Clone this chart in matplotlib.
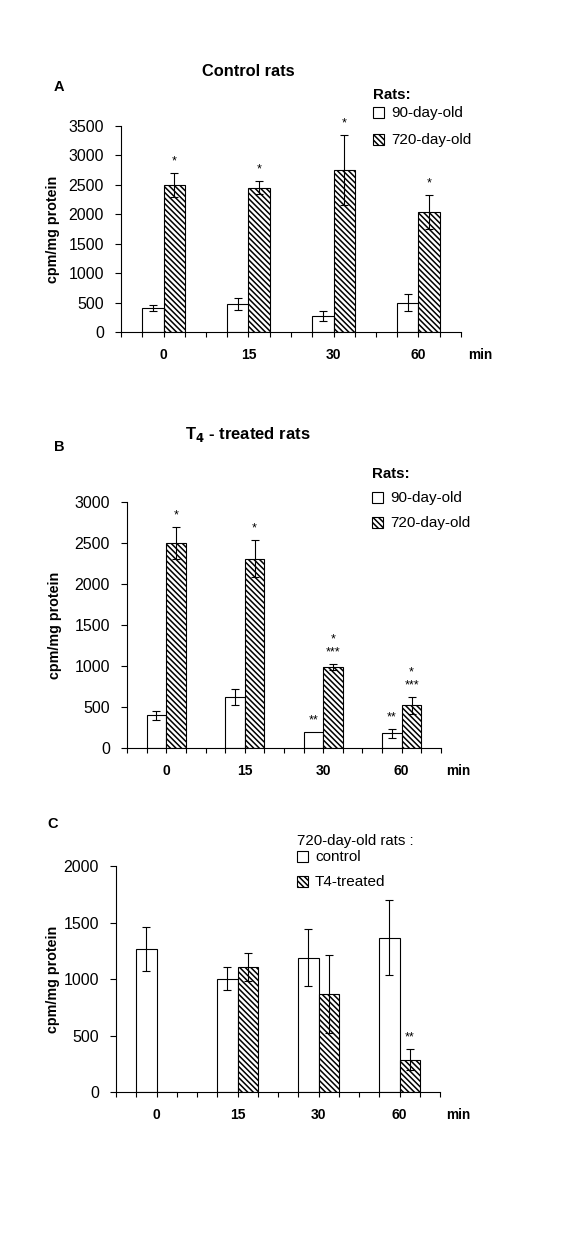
import numpy as np
import matplotlib
matplotlib.use('Agg')
from matplotlib import pyplot as plt
from matplotlib.patches import Rectangle

plt.rcParams['font.family'] = ['Liberation Sans', 'DejaVu Sans']
plt.rcParams['hatch.linewidth'] = 1.1

times = ['0', '15', '30', '60']

# panel A: control rats (90-day-old vs 720-day-old)
a_young = [410, 480, 275, 495]
a_young_err = [55, 100, 80, 145]
a_old = [2500, 2455, 2755, 2045]
a_old_err = [200, 110, 595, 290]
a_young_sig = ['', '', '', '']
a_old_sig = ['*', '*', '*', '*']

# panel B: T4-treated rats
b_young = [397, 620, 195, 178]
b_young_err = [53, 97, 0, 53]
b_old = [2505, 2310, 985, 519]
b_old_err = [195, 230, 37, 100]
b_young_sig = ['', '', '**', '**']
b_old_sig = ['*', '*', '*\n***', '*\n***']

# panel C: 720-day-old rats, control vs T4-treated
c_ctrl = [1268, 1003, 1189, 1366]
c_ctrl_err = [195, 100, 250, 330]
c_t4 = [0, 1109, 870, 286]
c_t4_err = [0, 125, 345, 95]
c_ctrl_sig = ['', '', '', '']
c_t4_sig = ['', '', '', '**']

W, H = 567, 1247
HATCH = '\\\\\\\\\\\\'
fig = plt.figure(figsize=(W/100, H/100), dpi=100)

# pixel box -> figure fraction
box = lambda l, t, r, b: [l/W, 1-b/H, (r-l)/W, (b-t)/H]
fx = lambda x: x/W
fy = lambda y: 1-y/H


def panel(ax, v1, e1, v2, e2, s1, s2, ymax, ylab_x):
    x = np.arange(len(times))*4 + 2
    ax.bar(x-0.5, v1, 1.0, color='white', edgecolor='black', lw=0.8)
    ax.bar(x+0.5, v2, 1.0, color='white', edgecolor='black', hatch=HATCH, lw=0.8)
    for xs, v, e, s in ((x-0.5, v1, e1, s1), (x+0.5, v2, e2, s2)):
        for xi, vi, ei, si in zip(xs, v, e, s):
            if ei > 0:
                ax.errorbar(xi, vi, yerr=ei, color='black', lw=0.8, capsize=3, capthick=0.8)
            if si:
                ax.annotate(si, (xi, vi+ei), xytext=(0, 4), textcoords='offset points',
                            ha='center', va='bottom', fontsize=9, linespacing=1.1,
                            annotation_clip=False)
    ax.set_xlim(0, 16)
    ax.set_ylim(0, ymax)
    for sp in ('top', 'right'):
        ax.spines[sp].set_visible(False)
    ax.set_xticks(range(17))
    labs = [''] * 17
    for i, t in enumerate(times):
        labs[4*i+2] = t
    ax.set_xticklabels(labs, fontweight='bold', fontsize=10)
    ax.tick_params(axis='x', direction='out', length=3.6, width=0.8, pad=8)
    ax.tick_params(axis='y', direction='out', length=4.3, width=0.8, pad=8, labelsize=11.5)
    ax.annotate('min', xy=(16.9, 0), xycoords=('data', 'axes fraction'), xytext=(0, -11.6),
                textcoords='offset points', ha='center', va='top', fontweight='bold', fontsize=9.8)
    ax.set_ylabel('cpm/mg protein', fontweight='bold', fontsize=10.3, va='center')
    ax.yaxis.set_label_coords(ylab_x, 0.5)


def legend(x, ytitle, yitems, title, bold, labels):
    fig.text(fx(x), fy(ytitle), title, ha='left', va='center', fontsize=10.8,
             fontweight='bold' if bold else 'normal')
    for y, lab, h in zip(yitems, labels, ['', HATCH]):
        fig.patches.append(Rectangle((fx(x), fy(y+5)), 11/W, 11/H, transform=fig.transFigure,
                                     facecolor='white', edgecolor='black', lw=0.8, hatch=h))
        fig.text(fx(x+18), fy(y), lab, ha='left', va='center', fontsize=11)


# A
axA = fig.add_axes(box(121, 126, 461, 332))
panel(axA, a_young, a_young_err, a_old, a_old_err, a_young_sig, a_old_sig, 3500, -0.2)
axA.set_yticks(range(0, 3501, 500))
fig.text(fx(248), fy(72), 'Control rats', ha='center', va='center', fontweight='bold', fontsize=11.8)
fig.text(fx(59), fy(87), 'A', ha='center', va='center', fontweight='bold', fontsize=10.5)
legend(373, 95, [113, 140], 'Rats:', True, ['90-day-old', '720-day-old'])

# B
axB = fig.add_axes(box(127, 502, 441, 748))
panel(axB, b_young, b_young_err, b_old, b_old_err, b_young_sig, b_old_sig, 3000, -0.229)
axB.set_yticks(range(0, 3001, 500))
fig.text(fx(248), fy(434), r'T$_{\mathbf{4}}$ - treated rats', ha='center', va='center',
         fontweight='bold', fontsize=12)
fig.text(fx(59), fy(447), 'B', ha='center', va='center', fontweight='bold', fontsize=10.5)
legend(372, 474, [498, 523], 'Rats:', True, ['90-day-old', '720-day-old'])

# C
axC = fig.add_axes(box(116, 866, 440, 1092))
panel(axC, c_ctrl, c_ctrl_err, c_t4, c_t4_err, c_ctrl_sig, c_t4_sig, 2000, -0.194)
axC.set_yticks(range(0, 2001, 500))
fig.text(fx(53), fy(824), 'C', ha='center', va='center', fontweight='bold', fontsize=10.5)
legend(297, 841, [857, 882], '720-day-old rats :', False, ['control', 'T4-treated'])

fig.savefig('out.png', dpi=100)
